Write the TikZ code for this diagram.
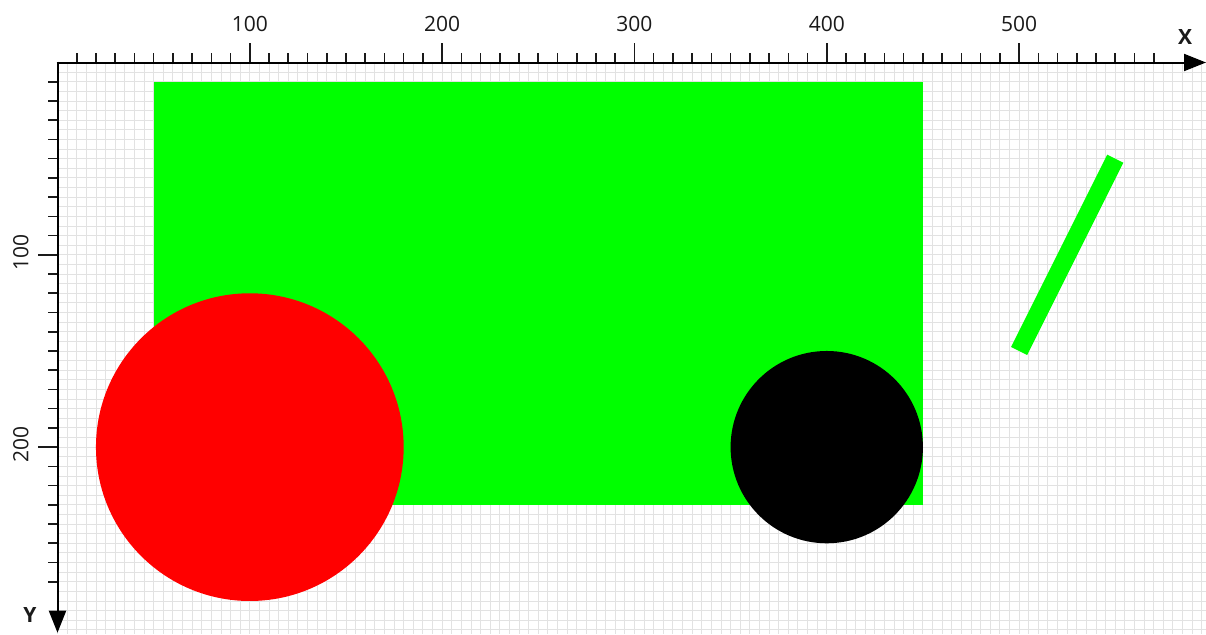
\documentclass[tikz,border=0pt]{standalone}
\usepackage{fontspec}
\setmainfont{Open Sans}
\usetikzlibrary{arrows.meta}
\definecolor{pgreen}{HTML}{00FF00}
\definecolor{pred}{HTML}{FF0000}
\definecolor{gridc}{HTML}{E2E2E2}
\definecolor{txt}{HTML}{1A1A1A}
\tikzset{
  gridline/.style={draw=gridc, line width=0.9pt},
  tickline/.style={draw=txt, line width=1.6pt},
  axisline/.style={draw=black, line width=2pt, -{Triangle[length=22pt,width=17pt]}},
  ticklabel/.style={text=txt, font=\fontsize{21}{24}\selectfont, inner sep=0pt},
  axislabel/.style={text=txt, font=\fontsize{21}{24}\selectfont\bfseries, inner sep=0pt},
}
\begin{document}
\begin{tikzpicture}[x=1.923pt, y=-1.923pt]
\useasboundingbox (-29.9,-32.5) rectangle (597.2,297.2);
\fill[white] (-29.9,-32.5) rectangle (597.2,297.2);
% grid
\foreach \i in {0,5,...,595} \draw[gridline] (\i,0) -- (\i,297.2);
\foreach \j in {0,5,...,295} \draw[gridline] (0,\j) -- (597.2,\j);
% shapes
\fill[pgreen] (50,10) rectangle (450,230);
\fill[pred] (100,200) circle (80);
\fill[black] (400,200) circle (50);
\draw[pgreen, line width=18pt] (500,150) -- (550,50);
% ticks
\foreach \i in {10,20,...,570} \draw[tickline] (\i,0) -- (\i,-5.2);
\foreach \i in {100,200,...,500} {
  \draw[tickline] (\i,0) -- (\i,-10.4);
  \node[ticklabel] (xl\i) at (\i,-19.8) {\i};
}
\foreach \j in {10,20,...,270} \draw[tickline] (0,\j) -- (-5.2,\j);
\foreach \j in {100,200} {
  \draw[tickline] (0,\j) -- (-9.9,\j);
  \node[ticklabel, rotate=90] (yl\j) at (-19,\j-1.3) {\j};
}
% axes
\coordinate (O) at (-0.5,0);
\coordinate (Ox) at (0,-0.5);
\coordinate (xend) at (597.2,0);
\coordinate (yend) at (0,296.5);
\draw[axisline] (O) -- (xend);
\draw[axisline] (Ox) -- (yend);
\node[axislabel] (xlab) at (586.3,-13.5) {X};
\node[axislabel] (ylab) at (-14.3,287.3) {Y};
\end{tikzpicture}
\end{document}
